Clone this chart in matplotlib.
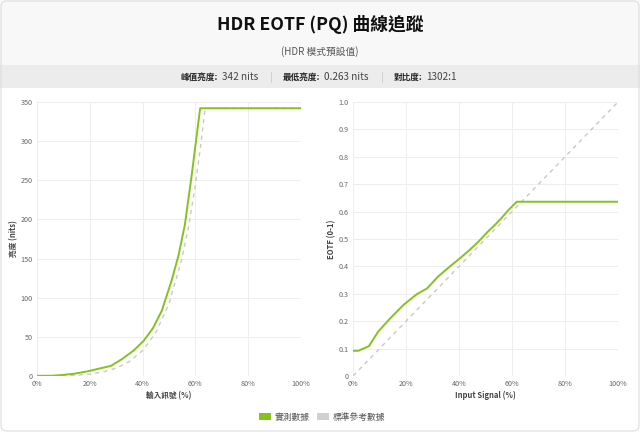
import matplotlib
matplotlib.use("Agg")
import matplotlib.pyplot as plt
from matplotlib.patches import FancyBboxPatch, Rectangle

plt.rcParams['font.family'] = ['Noto Sans CJK TC', 'DejaVu Sans']

# ---- data ----
signal_pct = [0, 2, 6, 9.5, 14, 19, 24, 28, 32, 36.6, 40.4, 44, 47.3, 51, 53.6, 56, 58.5, 61.8, 100]
measured_nits = [0.262, 0.262, 0.41, 1.26, 2.85, 5.85, 9.8, 12.9, 21.2, 32.5, 44.9, 61.5, 83.6,
                 122, 154, 193, 254, 342, 342]
measured_eotf = [0.092, 0.092, 0.109, 0.162, 0.21, 0.259, 0.298, 0.32, 0.362, 0.40, 0.43, 0.46,
                 0.49, 0.528, 0.552, 0.576, 0.604, 0.636, 0.636]

ref_pct = [0, 5, 10, 15, 20, 25, 30, 35, 40, 45, 50, 55, 57.5, 60, 62, 63.7, 100]
ref_nits = [0, 0.06, 0.33, 1.0, 2.43, 5.16, 10.05, 18.5, 32.5, 55.4, 92.3, 151, 192, 244, 295, 342, 342]
ref_eotf_pct = [0, 100]
ref_eotf = [0, 1.0]

x_ticks = [0, 20, 40, 60, 80, 100]
x_tick_labels = ['0%', '20%', '40%', '60%', '80%', '100%']
nits_ticks = [0, 50, 100, 150, 200, 250, 300, 350]
eotf_ticks = [0, 0.1, 0.2, 0.3, 0.4, 0.5, 0.6, 0.7, 0.8, 0.9, 1.0]
eotf_tick_labels = ['0', '0.1', '0.2', '0.3', '0.4', '0.5', '0.6', '0.7', '0.8', '0.9', '1.0']

title = 'HDR EOTF (PQ) 曲線追蹤'
subtitle = '(HDR 模式預設值)'
stats = [('峰值亮度:', '342 nits'), ('最低亮度:', '0.263 nits'), ('對比度:', '1302:1')]
legend_labels = ['實測數據', '標準參考數據']

GREEN = '#86c11e'
GRAY = '#c9c9c9'
W, H = 640, 433

fig = plt.figure(figsize=(6.4, 4.33), dpi=100)
fig.patch.set_facecolor('white')

# card background & header
bg = fig.add_axes([0, 0, 1, 1])
bg.set_xlim(0, W)
bg.set_ylim(H, 0)
bg.axis('off')
bg.add_patch(Rectangle((0, 0), W, 65, facecolor='#f8f8f8', edgecolor='none'))
bg.add_patch(Rectangle((0, 65), W, 23, facecolor='#ececec', edgecolor='none'))
bg.add_patch(FancyBboxPatch((1, 1), W - 2, H - 3, boxstyle='round,pad=0,rounding_size=6',
                            facecolor='none', edgecolor='#dddddd', lw=0.8))

bg.text(W / 2, 25, title, ha='center', va='center', fontsize=12.8, fontweight='bold', color='#111111')
bg.text(W / 2, 52, subtitle, ha='center', va='center', fontsize=7, color='#555555')

# stats row
centers = [220, 322, 424]
for (lab, val), cx in zip(stats, centers):
    bg.text(cx - 2, 77, lab, ha='right', va='center', fontsize=6.2, fontweight='bold', color='#222222')
    bg.text(cx + 2, 77, val, ha='left', va='center', fontsize=7.2, color='#444444')
for sx in [271, 382]:
    bg.plot([sx, sx], [72, 82], color='#cccccc', lw=0.6)

def style_axes(ax):
    ax.set_facecolor('white')
    for s in ax.spines.values():
        s.set_visible(False)
    ax.grid(True, color='#eeeeee', lw=0.7)
    ax.set_axisbelow(True)
    ax.tick_params(axis='both', length=0, labelsize=5.2, labelcolor='#666666', pad=3)
    ax.set_xlim(0, 100)
    ax.set_xticks(x_ticks)
    ax.set_xticklabels(x_tick_labels)

# left chart
axL = fig.add_axes([37 / W, 1 - 376 / H, (301 - 37) / W, (376 - 102) / H])
style_axes(axL)
axL.set_ylim(0, 350)
axL.set_yticks(nits_ticks)
axL.plot(ref_pct, ref_nits, color=GRAY, lw=1.0, dashes=(3, 3), zorder=2)
axL.plot(signal_pct, measured_nits, color=GREEN, lw=1.4, zorder=3)
axL.set_xlabel('輸入訊號 (%)', fontsize=5.5, color='#444444', fontweight='bold', labelpad=2)
axL.set_ylabel('亮度 (nits)', fontsize=5.5, color='#444444', fontweight='bold', labelpad=2)

# right chart
axR = fig.add_axes([353 / W, 1 - 376 / H, (618 - 353) / W, (376 - 102) / H])
style_axes(axR)
axR.set_ylim(0, 1.0)
axR.set_yticks(eotf_ticks)
axR.set_yticklabels(eotf_tick_labels)
axR.plot(ref_eotf_pct, ref_eotf, color=GRAY, lw=1.0, dashes=(3, 3), zorder=2)
axR.plot(signal_pct, measured_eotf, color=GREEN, lw=1.4, zorder=3)
axR.set_xlabel('Input Signal (%)', fontsize=5.5, color='#444444', fontweight='bold', labelpad=2)
axR.set_ylabel('EOTF (0-1)', fontsize=5.5, color='#444444', fontweight='bold', labelpad=2)

# legend
bg.add_patch(Rectangle((259, 413), 12, 7, facecolor=GREEN, edgecolor='none'))
bg.text(275, 417, legend_labels[0], ha='left', va='center', fontsize=6.3, color='#555555')
bg.add_patch(Rectangle((317, 413), 12, 7, facecolor='#d0d0d0', edgecolor='none'))
bg.text(333, 417, legend_labels[1], ha='left', va='center', fontsize=6.3, color='#555555')

fig.savefig('out.png', dpi=100, facecolor='white')
